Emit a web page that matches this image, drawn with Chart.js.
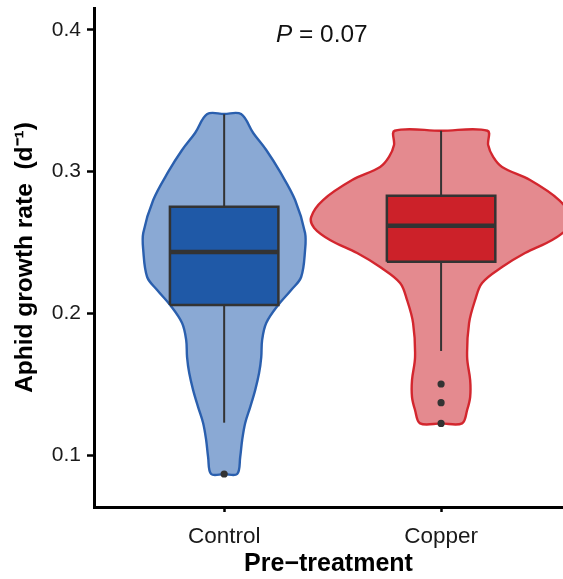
<!DOCTYPE html>
<html>
<head>
<meta charset="utf-8">
<script src="https://cdn.jsdelivr.net/npm/chart.js@4/dist/chart.umd.min.js"></script>
<style>
  html, body { margin: 0; padding: 0; background: #ffffff; }
  #wrap { width: 563px; height: 579px; }
</style>
</head>
<body>
<div id="wrap"><canvas id="c" width="563" height="579"></canvas></div>
<script>
// Groups and their positions on the horizontal axis
const categories = ['Control', 'Copper'];
const categoryPos = [1, 2];

// Y axis tick values
const yTicks = [0.1, 0.2, 0.3, 0.4];

// Box-plot summaries per group
const whiskerLow  = [0.1229, 0.1735];
const quartile1   = [0.2059, 0.2365];
const medians     = [0.2433, 0.2619];
const quartile3   = [0.2753, 0.2831];
const whiskerHigh = [0.3405, 0.3289];
const controlOutliers = [0.0867];
const copperOutliers  = [0.1502, 0.1370, 0.1224];

// Violin outlines: growth-rate levels and the density half-width at each level
const controlLevels = [0.3407, 0.3273, 0.3153, 0.2998, 0.2800, 0.2567, 0.2447, 0.2257, 0.2165, 0.2059, 0.1932, 0.1812, 0.1692, 0.1579, 0.1459, 0.1339, 0.1227, 0.1107, 0.0987, 0.0867];
const controlHalfWidth = [0.078, 0.134, 0.194, 0.258, 0.327, 0.373, 0.373, 0.355, 0.309, 0.249, 0.194, 0.175, 0.171, 0.161, 0.143, 0.120, 0.097, 0.083, 0.074, 0.060];
const copperLevels = [0.3289, 0.3188, 0.3104, 0.3033, 0.2941, 0.2800, 0.2680, 0.2603, 0.2518, 0.2426, 0.2327, 0.2215, 0.2095, 0.1932, 0.1692, 0.1530, 0.1410, 0.1318, 0.1224];
const copperHalfWidth = [0.214, 0.217, 0.240, 0.281, 0.410, 0.544, 0.599, 0.585, 0.512, 0.387, 0.281, 0.189, 0.157, 0.129, 0.120, 0.134, 0.134, 0.120, 0.097];

// Test annotation
const pSymbol = 'P';
const pValueText = ' = 0.07';
const pAnchor = { x: 1.45, y: 0.3965 };

const FONT = "'Liberation Sans', Arial, Helvetica, sans-serif";
const BOX_HALF = 0.25;
const BOX_LINE = '#333333';

// Closed outline: down the left side, across the bottom, up the right side
function violinOutline(center, levels, halfWidths) {
  const pts = [{ x: center, y: levels[0] }];
  for (let i = 0; i < levels.length; i++) pts.push({ x: center - halfWidths[i], y: levels[i] });
  pts.push({ x: center, y: levels[levels.length - 1] });
  for (let i = levels.length - 1; i >= 0; i--) pts.push({ x: center + halfWidths[i], y: levels[i] });
  pts.push({ x: center, y: levels[0] });
  return pts;
}

function boxOutline(i) {
  const c = categoryPos[i];
  return [
    { x: c - BOX_HALF, y: quartile1[i] }, { x: c - BOX_HALF, y: quartile3[i] },
    { x: c + BOX_HALF, y: quartile3[i] }, { x: c + BOX_HALF, y: quartile1[i] },
    { x: c - BOX_HALF, y: quartile1[i] }
  ];
}

function lineSet(points, color, width, order) {
  return { data: points, showLine: true, borderColor: color, borderWidth: width,
           pointRadius: 0, fill: false, tension: 0, order: order };
}

const groupStyle = [
  { violinFill: '#8aa9d4', violinEdge: '#2a5fae', boxFill: '#1f59a7' },
  { violinFill: '#e48a8f', violinEdge: '#d3262e', boxFill: '#cc2129' }
];

const datasets = [];
[controlLevels, copperLevels].forEach((levels, i) => {
  const hw = i === 0 ? controlHalfWidth : copperHalfWidth;
  datasets.push({
    data: violinOutline(categoryPos[i], levels, hw),
    showLine: true, fill: 'shape', tension: 0.35,
    backgroundColor: groupStyle[i].violinFill, borderColor: groupStyle[i].violinEdge,
    borderWidth: 2.4, pointRadius: 0, order: 10
  });
  // whiskers
  datasets.push(lineSet([{ x: categoryPos[i], y: quartile3[i] }, { x: categoryPos[i], y: whiskerHigh[i] }], BOX_LINE, 2, 8));
  datasets.push(lineSet([{ x: categoryPos[i], y: whiskerLow[i] }, { x: categoryPos[i], y: quartile1[i] }], BOX_LINE, 2, 8));
  // box
  datasets.push({
    data: boxOutline(i), showLine: true, fill: 'shape', tension: 0,
    backgroundColor: groupStyle[i].boxFill, borderColor: BOX_LINE, borderWidth: 2.5,
    pointRadius: 0, order: 6, borderJoinStyle: 'miter'
  });
  // median
  datasets.push(lineSet([{ x: categoryPos[i] - BOX_HALF, y: medians[i] }, { x: categoryPos[i] + BOX_HALF, y: medians[i] }], BOX_LINE, 4.5, 4));
});
// outlying observations
datasets.push({
  data: controlOutliers.map(v => ({ x: categoryPos[0], y: v }))
        .concat(copperOutliers.map(v => ({ x: categoryPos[1], y: v }))),
  showLine: false, pointRadius: 3.6, pointBackgroundColor: '#333333',
  pointBorderWidth: 0, order: 1
});

const pAnnotation = {
  id: 'pAnnotation',
  afterDatasetsDraw(chart) {
    const { ctx, scales } = chart;
    const px = scales.x.getPixelForValue(pAnchor.x);
    const py = scales.y.getPixelForValue(pAnchor.y);
    const size = 24.4;
    ctx.save();
    ctx.fillStyle = '#111111';
    ctx.textBaseline = 'middle';
    ctx.font = 'italic ' + size + 'px ' + FONT;
    const w1 = ctx.measureText(pSymbol).width;
    ctx.font = size + 'px ' + FONT;
    const w2 = ctx.measureText(pValueText).width;
    const start = px - (w1 + w2) / 2;
    ctx.font = 'italic ' + size + 'px ' + FONT;
    ctx.fillText(pSymbol, start, py);
    ctx.font = size + 'px ' + FONT;
    ctx.fillText(pValueText, start + w1, py);
    ctx.restore();
  }
};

new Chart(document.getElementById('c'), {
  type: 'scatter',
  data: { datasets },
  options: {
    responsive: false,
    devicePixelRatio: 1,
    animation: false,
    layout: { autoPadding: false, padding: { top: 8, right: 0, left: 0, bottom: 0 } },
    plugins: { legend: { display: false }, tooltip: { enabled: false } },
    scales: {
      x: {
        type: 'linear', min: 0.4, max: 2.562,
        afterBuildTicks: s => { s.ticks = categoryPos.map(v => ({ value: v })); },
        ticks: {
          callback: v => categories[categoryPos.indexOf(v)],
          font: { family: FONT, size: 22.5 }, color: '#1a1a1a', padding: 11, maxRotation: 0
        },
        grid: { display: true, drawOnChartArea: false, drawTicks: true, tickLength: 5, tickWidth: 2.5, tickColor: '#000' },
        border: { display: true, color: '#000', width: 3 },
        title: { display: true, text: 'Pre\u2212treatment', color: '#000',
                 font: { family: FONT, size: 25, weight: 'bold' }, padding: { top: 0, bottom: 0 } },
        afterFit: s => { s.height = 72; s.paddingLeft = 0; s.paddingRight = 0; }
      },
      y: {
        type: 'linear', min: 0.0634, max: 0.4155,
        afterBuildTicks: s => { s.ticks = yTicks.map(v => ({ value: v })); },
        ticks: {
          callback: v => v.toFixed(1),
          font: { family: FONT, size: 21 }, color: '#1a1a1a', padding: 6
        },
        grid: { display: true, drawOnChartArea: false, drawTicks: true, tickLength: 7, tickWidth: 2.5, tickColor: '#000' },
        border: { display: true, color: '#000', width: 3 },
        title: { display: true, text: 'Aphid growth rate  (d\u207B\u00B9)', color: '#000',
                 font: { family: FONT, size: 24.5, weight: 'bold' }, padding: { top: 11, bottom: 0 } },
        afterFit: s => { s.width = 94; s.paddingTop = 0; s.paddingBottom = 0; }
      }
    }
  },
  plugins: [pAnnotation]
});
</script>
</body>
</html>
